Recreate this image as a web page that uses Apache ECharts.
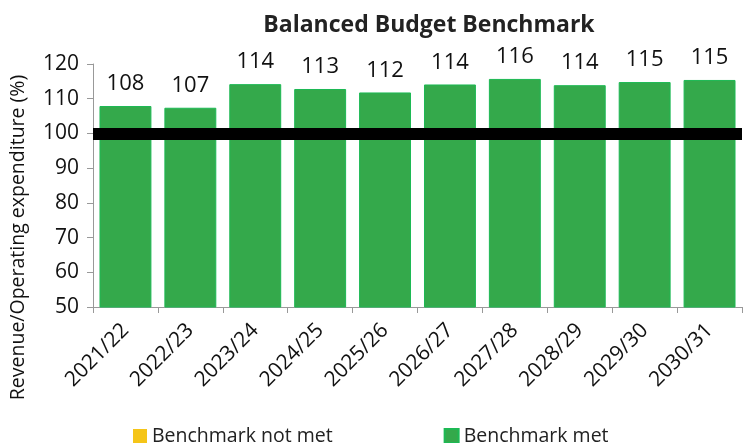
<!DOCTYPE html>
<html>
<head>
<meta charset="utf-8">
<script src="https://cdn.jsdelivr.net/npm/echarts@6/dist/echarts.min.js"></script>
<style>
  html, body { margin: 0; padding: 0; background: #fff; }
  #main { width: 747px; height: 443px; }
</style>
</head>
<body>
<div id="main"></div>
<script>
// 数据
var years = ['2021/22', '2022/23', '2023/24', '2024/25', '2025/26', '2026/27', '2027/28', '2028/29', '2029/30', '2030/31'];
var ratio = [107.9, 107.4, 114.2, 112.8, 111.8, 114.1, 115.7, 113.9, 114.8, 115.4];
var benchmark = 100;
var yTicks = [50, 60, 70, 80, 90, 100, 110, 120];

var myChart = echarts.init(document.getElementById('main'));
var font = '"Open Sans", "Liberation Sans", sans-serif';

var option = {
    animation: false,
    textStyle: { fontFamily: font },
    title: {
        text: 'Balanced Budget Benchmark',
        left: 424,
        top: 9,
        textAlign: 'center',
        textStyle: { fontSize: 23, fontWeight: 'bold', color: '#222', fontFamily: font }
    },
    legend: {
        left: 128,
        top: 421,
        icon: 'rect',
        itemWidth: 14,
        itemHeight: 14,
        itemGap: 111,
        textStyle: { fontSize: 19.5, color: '#222', fontFamily: font },
        data: ['Benchmark not met', 'Benchmark met']
    },
    grid: {
        left: 90,
        right: 5,
        top: 64,
        bottom: 136
    },
    xAxis: {
        type: 'category',
        data: years,
        axisLine: { lineStyle: { color: '#999' } },
        axisTick: { show: true, alignWithLabel: false, length: 6, lineStyle: { color: '#999' } },
        axisLabel: { rotate: 45, fontSize: 21, color: '#111', margin: 20, fontFamily: font }
    },
    yAxis: {
        type: 'value',
        min: yTicks[0],
        max: yTicks[yTicks.length - 1],
        interval: 10,
        name: 'Revenue/Operating expenditure (%)',
        nameLocation: 'middle',
        nameGap: 65,
        nameTextStyle: { fontSize: 19.5, color: '#111', fontFamily: font, padding: [0, 104, 0, 0] },
        axisLine: { show: true, lineStyle: { color: '#999' } },
        axisTick: { show: true, length: 6, lineStyle: { color: '#999' } },
        splitLine: { show: false },
        axisLabel: { fontSize: 21, color: '#111', margin: 14, fontFamily: font }
    },
    series: [
        {
            name: 'Benchmark not met',
            type: 'bar',
            data: [],
            itemStyle: { color: '#F5C518' }
        },
        {
            name: 'Benchmark met',
            type: 'bar',
            data: ratio,
            barWidth: '80%',
            barGap: '-100%',
            itemStyle: { color: '#34A94B', borderColor: '#1DB954', borderWidth: 1 },
            label: {
                show: true,
                position: 'top',
                distance: 11,
                fontSize: 22,
                color: '#111',
                fontFamily: font,
                formatter: function (p) { return Math.round(p.value); }
            },
            markLine: {
                silent: true,
                symbol: 'none',
                label: { show: false },
                lineStyle: { color: '#000', width: 12, type: 'solid' },
                data: [{ yAxis: benchmark }]
            }
        }
    ]
};

myChart.setOption(option);
</script>
</body>
</html>
